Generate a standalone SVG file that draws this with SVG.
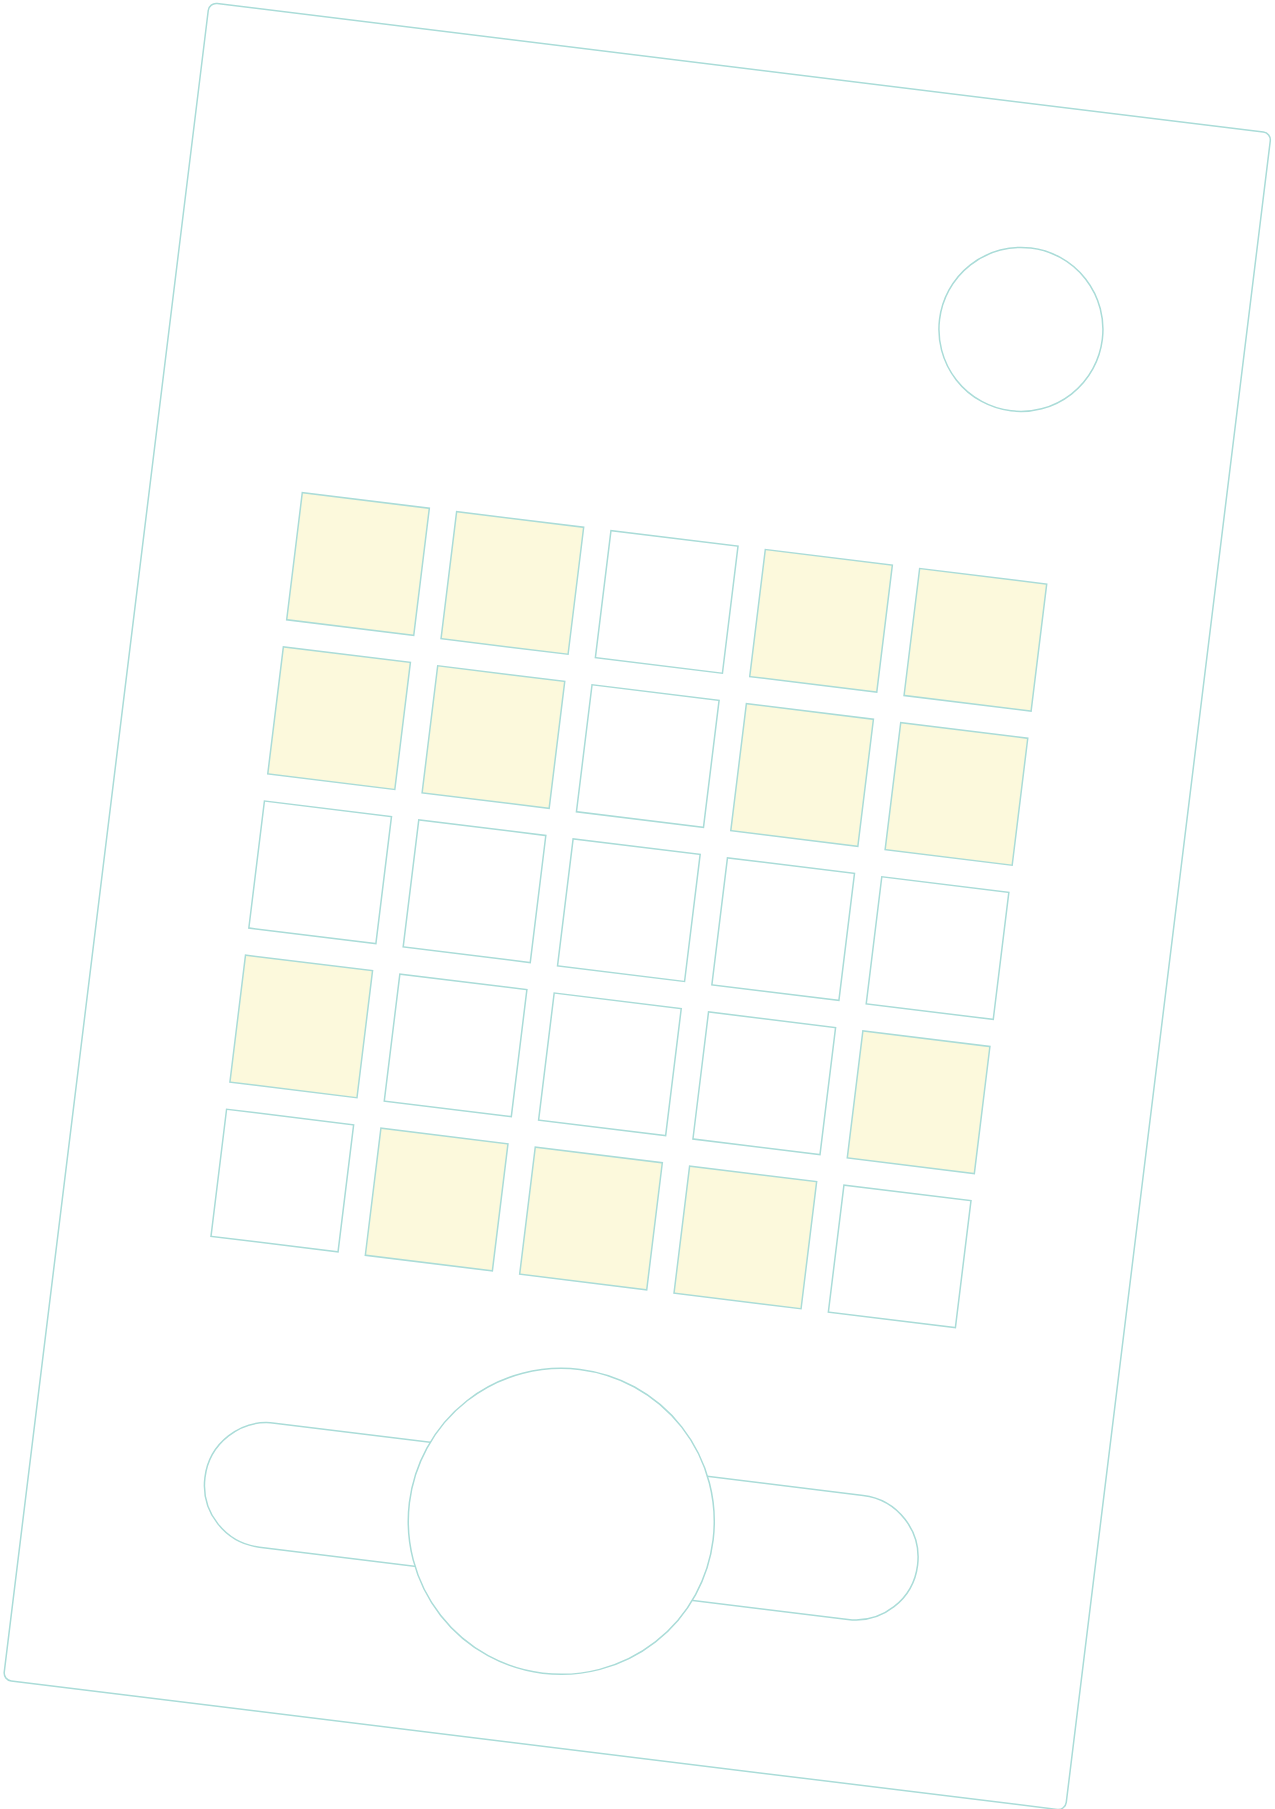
<svg xmlns="http://www.w3.org/2000/svg" width="1275" height="1809" viewBox="0 0 1275 1809">
  <style>
    .ln { fill: #ffffff; stroke: #aadcd8; stroke-width: 1.5; }
    .on { fill: #fcf9dc; }
  </style>
  <rect x="0" y="0" width="1275" height="1809" fill="#ffffff"/>
  <g transform="rotate(7 637.5 904.5)">
    <g id="body"><rect class="ln" x="102.5" y="61.5" width="1070" height="1690" rx="8"/></g>
    <g id="indicator"><circle class="ln" cx="948" cy="287" r="82"/></g>
    <g id="grid">
      <g id="c11"><rect class="ln on" x="254.6" y="536.6" width="128" height="128"/></g>
      <g id="c12"><rect class="ln on" x="410.1" y="536.6" width="128" height="128"/></g>
      <g id="c13"><rect class="ln" x="565.6" y="536.6" width="128" height="128"/></g>
      <g id="c14"><rect class="ln on" x="721.1" y="536.6" width="128" height="128"/></g>
      <g id="c15"><rect class="ln on" x="876.6" y="536.6" width="128" height="128"/></g>

      <g id="c21"><rect class="ln on" x="254.6" y="691.9" width="128" height="128"/></g>
      <g id="c22"><rect class="ln on" x="410.1" y="691.9" width="128" height="128"/></g>
      <g id="c23"><rect class="ln" x="565.6" y="691.9" width="128" height="128"/></g>
      <g id="c24"><rect class="ln on" x="721.1" y="691.9" width="128" height="128"/></g>
      <g id="c25"><rect class="ln on" x="876.6" y="691.9" width="128" height="128"/></g>

      <g id="c31"><rect class="ln" x="254.6" y="847.2" width="128" height="128"/></g>
      <g id="c32"><rect class="ln" x="410.1" y="847.2" width="128" height="128"/></g>
      <g id="c33"><rect class="ln" x="565.6" y="847.2" width="128" height="128"/></g>
      <g id="c34"><rect class="ln" x="721.1" y="847.2" width="128" height="128"/></g>
      <g id="c35"><rect class="ln" x="876.6" y="847.2" width="128" height="128"/></g>

      <g id="c41"><rect class="ln on" x="254.6" y="1002.5" width="128" height="128"/></g>
      <g id="c42"><rect class="ln" x="410.1" y="1002.5" width="128" height="128"/></g>
      <g id="c43"><rect class="ln" x="565.6" y="1002.5" width="128" height="128"/></g>
      <g id="c44"><rect class="ln" x="721.1" y="1002.5" width="128" height="128"/></g>
      <g id="c45"><rect class="ln on" x="876.6" y="1002.5" width="128" height="128"/></g>

      <g id="c51"><rect class="ln" x="254.6" y="1157.8" width="128" height="128"/></g>
      <g id="c52"><rect class="ln on" x="410.1" y="1157.8" width="128" height="128"/></g>
      <g id="c53"><rect class="ln on" x="565.6" y="1157.8" width="128" height="128"/></g>
      <g id="c54"><rect class="ln on" x="721.1" y="1157.8" width="128" height="128"/></g>
      <g id="c55"><rect class="ln" x="876.6" y="1157.8" width="128" height="128"/></g>
    </g>
    <g id="track"><rect class="ln" x="278" y="1463.5" width="718" height="125" rx="62.5"/></g>
    <g id="knob"><circle class="ln" cx="637" cy="1526" r="153"/></g>
  </g>
</svg>
